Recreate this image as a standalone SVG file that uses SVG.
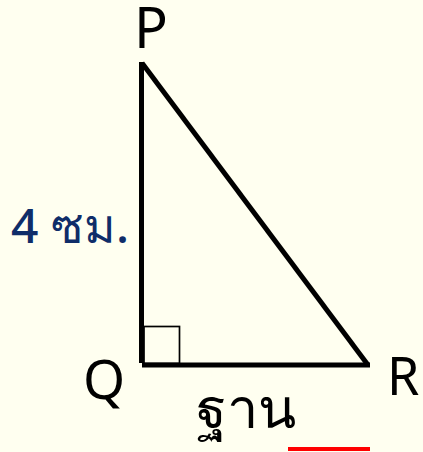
<svg xmlns="http://www.w3.org/2000/svg" width="423" height="452" viewBox="0 0 423 452">
<style>
.lbl{font-family:"Noto Sans","Open Sans","DejaVu Sans",sans-serif;fill:#000}
.edge{stroke:#000;stroke-width:5;fill:none}
</style>
<rect width="423" height="452" fill="#fffff0"/>
<g id="connectors">
<line class="edge" x1="141.5" y1="62" x2="141.5" y2="363"/>
<line class="edge" x1="142" y1="365" x2="370" y2="365"/>
<line class="edge" x1="142" y1="63" x2="368" y2="365"/>
<rect x="144" y="326.5" width="35.5" height="37" fill="none" stroke="#000" stroke-width="1.7"/>
</g>
<g id="P"><text class="lbl" x="134" y="48" font-size="56">P</text></g>
<g id="Q"><text class="lbl" x="83" y="399" font-size="54">Q</text></g>
<g id="R"><text class="lbl" x="387" y="395" font-size="52">R</text></g>
<g id="side"><text x="11" y="243" font-family="Noto Sans, sans-serif" font-size="48" font-weight="500" fill="#0f2d69">4 ซม.</text></g>
<g id="base"><text x="196" y="428" font-family="Noto Sans, sans-serif" font-size="56" fill="#000">ฐาน</text></g>
<rect x="288" y="447" width="82" height="4" fill="#ff0000"/>
</svg>
